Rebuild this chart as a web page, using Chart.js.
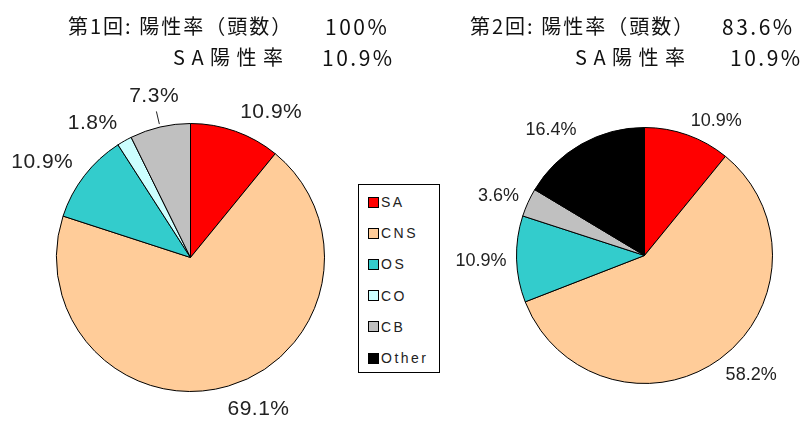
<!DOCTYPE html>
<html lang="ja">
<head>
<meta charset="utf-8">
<title>陽性率</title>
<script src="https://cdn.jsdelivr.net/npm/chart.js@4.4.0/dist/chart.umd.min.js"></script>
<style>
    html, body { margin: 0; padding: 0; background: #fff; }
    body {
        width: 803px; height: 427px; position: relative; overflow: hidden;
        font-family: "Noto Sans CJK JP", sans-serif; color: #111;
    }
    .chart-box { position: absolute; top: 0; height: 427px; }
    #pie1Box { left: 0; width: 400px; }
    #pie2Box { left: 400px; width: 403px; }
    .title { position: absolute; font-size: 20px; line-height: 24px; white-space: nowrap; }
    .title.num { font-size: 21px; letter-spacing: 2.5px; }
    .legend {
        position: absolute; left: 358px; top: 184px; width: 80px; height: 187px;
        border: 1px solid #000; background: #fff; z-index: 2;
    }
    .legend-item {
        position: absolute; left: 9px; height: 16px; display: flex; align-items: center;
        font-family: "Liberation Sans", sans-serif; font-size: 14px; letter-spacing: 2.5px; color: #222;
    }
    .legend-dot { width: 9px; height: 9px; border: 1px solid #000; margin-right: 2px; }
</style>
</head>
<body>
<div class="chart-box" id="pie1Box"><canvas id="pie1" width="400" height="427"></canvas></div>
<div class="chart-box" id="pie2Box"><canvas id="pie2" width="403" height="427"></canvas></div>
<div id="titles"></div>
<div class="legend" id="legend"></div>

<script>
/* data */
const categories = ['SA', 'CNS', 'OS', 'CO', 'CB', 'Other'];
const sliceColors = ['#ff0000', '#ffcc99', '#33cccc', '#ccffff', '#c0c0c0', '#000000'];
const round1Values = [10.9, 69.1, 10.9, 1.8, 7.3, 0];
const round2Values = [10.9, 58.2, 10.9, 0, 3.6, 16.4];
const roundNames = ['第1回', '第2回'];
const positiveRates = ['100%', '83.6%'];
const saRates = ['10.9%', '10.9%'];

document.addEventListener('DOMContentLoaded', () => {
    buildTitles();
    buildLegend();
    initPie('pie1', round1Values, { left: 56, top: 123, right: 75, bottom: 35 },
        { size: 21, spacing: '0.5px', gap: 14, leader: { index: 4, length: 12 } });
    initPie('pie2', round2Values, { left: 116, top: 127, right: 30, bottom: 43 },
        { size: 18, spacing: '0px', gap: 10, leader: null });
});

/* header text above each pie */
function buildTitles() {
    const spots = [
        { x: 68, sa: 173, v1: 325, v2: 322 },
        { x: 470, sa: 575, v1: 722, v2: 730 }
    ];
    const box = document.getElementById('titles');
    box.innerHTML = spots.map((s, i) => `
        <span class="title" style="left:${s.x}px;top:14px;letter-spacing:2px">${roundNames[i]}: 陽性率（頭数）</span>
        <span class="title num" style="left:${s.v1}px;top:14px">${positiveRates[i]}</span>
        <span class="title" style="left:${s.sa}px;top:45px;letter-spacing:6.5px">SA陽性率</span>
        <span class="title num" style="left:${s.v2}px;top:45px">${saRates[i]}</span>
    `).join('');
}

function buildLegend() {
    const container = document.getElementById('legend');
    container.innerHTML = categories.map((label, i) => `
        <div class="legend-item" style="top:${9 + i * 31.2}px">
            <span class="legend-dot" style="background:${sliceColors[i]}"></span>
            <span>${label}</span>
        </div>
    `).join('');
}

/* percentage labels outside the slices */
const pieLabels = {
    id: 'pieLabels',
    afterDatasetsDraw(chart, args, opts) {
        const { ctx } = chart;
        const values = chart.data.datasets[0].data;
        ctx.save();
        ctx.font = opts.size + 'px "Liberation Sans", sans-serif';
        ctx.letterSpacing = opts.spacing;
        ctx.fillStyle = opts.color;
        ctx.strokeStyle = '#222';
        ctx.lineWidth = 1;
        ctx.textBaseline = 'alphabetic';
        const capH = opts.size * 0.72;
        chart.getDatasetMeta(0).data.forEach((arc, i) => {
            if (!values[i]) return;
            const p = arc.getProps(['x', 'y', 'startAngle', 'endAngle', 'outerRadius'], true);
            const mid = (p.startAngle + p.endAngle) / 2;
            const dx = Math.cos(mid), dy = Math.sin(mid);
            const leader = opts.leader && opts.leader.index === i;
            const dist = p.outerRadius + opts.gap + (leader ? opts.leader.length : 0);
            const ax = p.x + dx * dist;
            const ay = p.y + dy * dist;
            const text = values[i].toFixed(1) + '%';
            const w = ctx.measureText(text).width;
            const kx = leader ? 0 : Math.max(-1, Math.min(1, dx * 3));
            const ky = leader ? -1 : Math.max(-1, Math.min(1, dy * 1.5));
            const left = ax - w * (1 - kx) / 2;
            const top = ay - capH * (1 - ky) / 2;
            ctx.fillText(text, left, top + capH);
            if (leader) {
                ctx.beginPath();
                ctx.moveTo(p.x + dx * (p.outerRadius + 3), p.y + dy * (p.outerRadius + 3));
                ctx.lineTo(p.x + dx * (dist - 10), p.y + dy * (dist - 10));
                ctx.stroke();
            }
        });
        ctx.restore();
    }
};

function initPie(id, values, padding, labelOpts) {
    const ctx = document.getElementById(id);
    if (!ctx) return;

    new Chart(ctx, {
        type: 'pie',
        data: {
            labels: categories,
            datasets: [{
                data: values,
                backgroundColor: sliceColors,
                borderColor: '#000',
                borderWidth: 1,
            }]
        },
        options: {
            responsive: false,
            animation: false,
            layout: { padding: padding },
            plugins: {
                legend: { display: false },
                tooltip: { enabled: false },
                pieLabels: Object.assign({ color: '#222' }, labelOpts),
            }
        },
        plugins: [pieLabels]
    });
}
</script>
</body>
</html>
